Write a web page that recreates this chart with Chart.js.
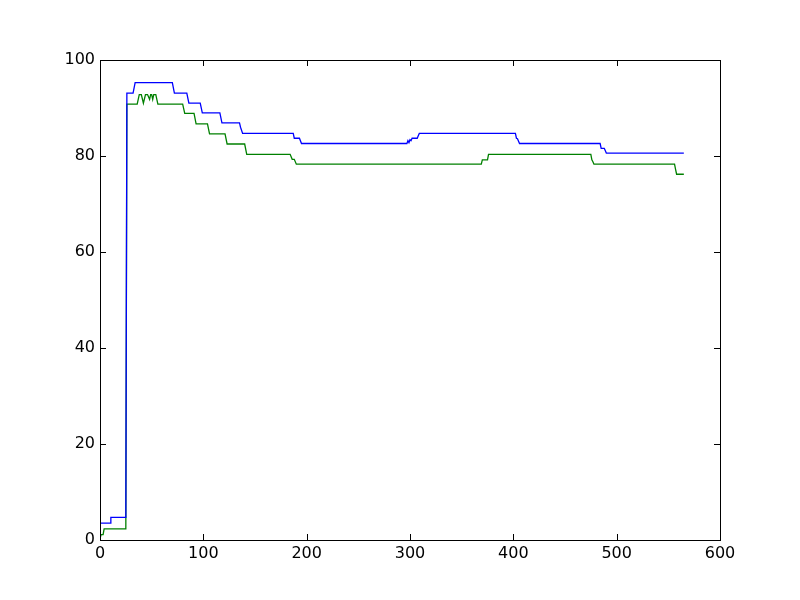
<!DOCTYPE html>
<html>
<head>
<meta charset="utf-8">
<script src="https://cdn.jsdelivr.net/npm/chart.js@4"></script>
<style>
  body { margin: 0; background: #fff; }
  canvas { display: block; }
</style>
</head>
<body>
<canvas id="chart" width="800" height="600"></canvas>
<script>
// vertices of the two step curves
const blueX = [0, 10, 10.5, 25, 26, 32, 34, 70, 72, 84, 86, 97, 99, 116, 118, 135, 136, 138,
  187, 188, 193, 195, 297, 298, 299, 300, 301, 302, 307, 308, 309, 402, 403, 404, 406,
  484, 485, 488, 490, 565];
const blueY = [3.5, 3.5, 4.7, 4.7, 93.1, 93.1, 95.3, 95.3, 93.1, 93.1, 91.0, 91.0, 89.0, 89.0, 86.9, 86.9, 86.0, 84.7,
  84.7, 83.7, 83.7, 82.6, 82.6, 83.2, 82.8, 83.4, 83.2, 83.7, 83.7, 84.2, 84.7, 84.7, 83.7, 83.6, 82.6,
  82.6, 81.6, 81.6, 80.6, 80.6];

const greenX = [0, 1, 3, 4, 25, 26, 36, 38, 40, 42, 44, 46, 48, 49, 50, 51, 52, 54, 56,
  80, 82, 91, 93, 104, 106, 121, 123, 140, 142, 184, 186, 188, 190, 369, 370, 375, 376,
  475, 476, 477, 478, 556, 557, 558, 565];
const greenY = [0.3, 1.1, 1.1, 2.3, 2.3, 90.8, 90.8, 92.8, 92.8, 91.0, 92.8, 92.8, 91.8, 92.8, 92.8, 91.8, 92.8, 92.8, 90.8,
  90.8, 88.9, 88.9, 86.7, 86.7, 84.6, 84.6, 82.5, 82.5, 80.35, 80.35, 79.3, 79.3, 78.3, 78.3, 79.2, 79.2, 80.35,
  80.35, 79.2, 78.8, 78.3, 78.3, 77.2, 76.2, 76.2];

const xTicks = [0, 100, 200, 300, 400, 500, 600];
const yTicks = [0, 20, 40, 60, 80, 100];

const toPoints = (xs, ys) => xs.map((x, i) => ({ x: x, y: ys[i] }));

// matplotlib-style frame with inward ticks on all four sides
const frame = {
  id: "frame",
  afterDraw(chart) {
    const { ctx, chartArea: a, scales } = chart;
    const len = 6;
    ctx.save();
    ctx.strokeStyle = "#000";
    ctx.lineWidth = 1;
    ctx.beginPath();
    xTicks.forEach((v) => {
      const px = Math.round(scales.x.getPixelForValue(v)) + 0.5;
      ctx.moveTo(px, a.bottom); ctx.lineTo(px, a.bottom - len);
      ctx.moveTo(px, a.top); ctx.lineTo(px, a.top + len);
    });
    yTicks.forEach((v) => {
      const py = Math.round(scales.y.getPixelForValue(v)) + 0.5;
      ctx.moveTo(a.left, py); ctx.lineTo(a.left + len, py);
      ctx.moveTo(a.right, py); ctx.lineTo(a.right - len, py);
    });
    ctx.stroke();
    ctx.strokeRect(Math.round(a.left) + 0.5, Math.round(a.top) + 0.5,
      Math.round(a.right - a.left), Math.round(a.bottom - a.top));
    ctx.restore();
  },
};

new Chart(document.getElementById("chart"), {
  type: "line",
  data: {
    datasets: [
      {
        data: toPoints(blueX, blueY),
        borderColor: "#0000ff",
        borderWidth: 1.3,
        pointRadius: 0,
        tension: 0,
      },
      {
        data: toPoints(greenX, greenY),
        borderColor: "#008000",
        borderWidth: 1.3,
        pointRadius: 0,
        tension: 0,
      },
    ],
  },
  options: {
    responsive: false,
    animation: false,
    layout: { padding: { top: 60, right: 80, left: 0, bottom: 0 } },
    plugins: { legend: { display: false }, tooltip: { enabled: false } },
    scales: {
      x: {
        type: "linear",
        min: 0,
        max: 600,
        afterBuildTicks: (s) => { s.ticks = xTicks.map((v) => ({ value: v })); },
        afterFit: (s) => { s.height = 60; },
        grid: { display: false, drawTicks: false, tickLength: 0 },
        border: { display: false },
        ticks: { color: "#000", padding: 4, font: { family: "DejaVu Sans", size: 16 } },
      },
      y: {
        min: 0,
        max: 100,
        afterBuildTicks: (s) => { s.ticks = yTicks.map((v) => ({ value: v })); },
        afterFit: (s) => { s.width = 100; },
        grid: { display: false, drawTicks: false, tickLength: 0 },
        border: { display: false },
        ticks: { color: "#000", padding: 5, font: { family: "DejaVu Sans", size: 16 } },
      },
    },
  },
  plugins: [frame],
});
</script>
</body>
</html>
